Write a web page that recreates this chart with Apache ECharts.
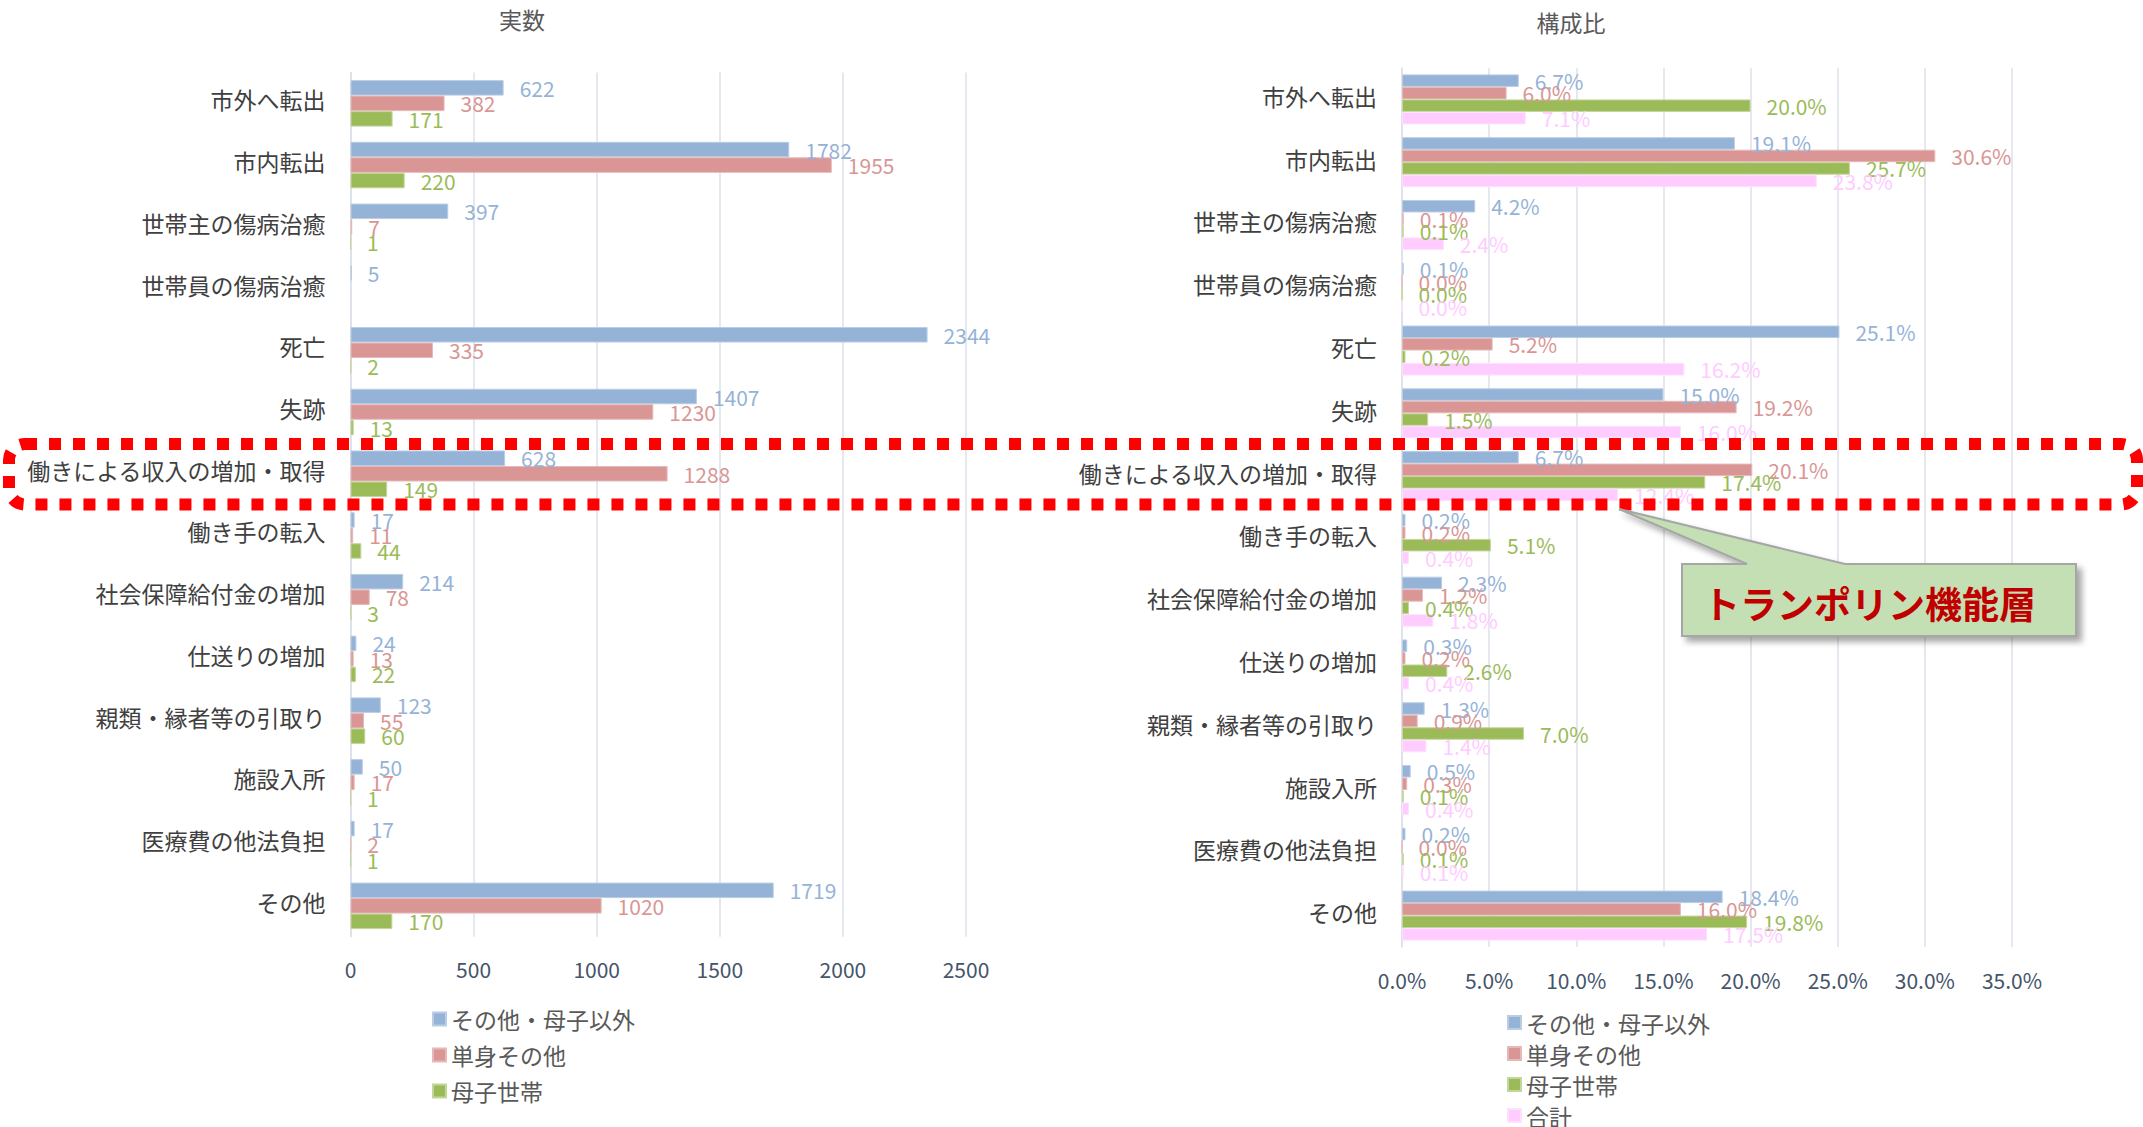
<!DOCTYPE html>
<html><head><meta charset="utf-8">
<script src="https://cdn.jsdelivr.net/npm/echarts@6/dist/echarts.min.js"></script>
<style>html,body{margin:0;padding:0;background:#fff}#c{width:2143px;height:1127px}</style>
</head><body><div id="c"></div>
<script>
const categories = ['市外へ転出','市内転出','世帯主の傷病治癒','世帯員の傷病治癒','死亡','失跡','働きによる収入の増加・取得','働き手の転入','社会保障給付金の増加','仕送りの増加','親類・縁者等の引取り','施設入所','医療費の他法負担','その他'];
const seriesNames = ['その他・母子以外','単身その他','母子世帯','合計'];
// 実数
const countOther  = [622,1782,397,5,2344,1407,628,17,214,24,123,50,17,1719];
const countSingle = [382,1955,7,null,335,1230,1288,11,78,13,55,17,2,1020];
const countMother = [171,220,1,null,2,13,149,44,3,22,60,1,1,170];
// 構成比 (%)
const pctOther  = [6.7,19.1,4.2,0.1,25.1,15.0,6.7,0.2,2.3,0.3,1.3,0.5,0.2,18.4];
const pctSingle = [6.0,30.6,0.1,0.0,5.2,19.2,20.1,0.2,1.2,0.2,0.9,0.3,0.0,16.0];
const pctMother = [20.0,25.7,0.1,0.0,0.2,1.5,17.4,5.1,0.4,2.6,7.0,0.1,0.1,19.8];
const pctTotal  = [7.1,23.8,2.4,0.0,16.2,16.0,12.4,0.4,1.8,0.4,1.4,0.4,0.1,17.5];
// axis ticks
const countAxis = {min:0, max:2500, interval:500};
const pctAxis = {min:0, max:35, interval:5};

const FONT = '"Noto Sans CJK JP", "Noto Sans", sans-serif';
const colors = ['#95B3D7','#D99694','#9BBB59','#FFCCFF'];
const borders = ['#B9CDE5','#E6B9B8','#C3D69B','#FFE0FF'];
const gridColor = '#DCE1E9';

function barSeries(idx, data, axisIdx, barW, pct){
  return {
    type:'bar', name:seriesNames[idx], data:data,
    xAxisIndex:axisIdx, yAxisIndex:axisIdx,
    barWidth:barW, barGap:'0%',
    itemStyle:{color:colors[idx], borderColor:borders[idx], borderWidth:1},
    label:{show:true, position:'right', distance:16, color:colors[idx], fontSize:21, fontFamily:FONT,
      formatter: pct ? (p => p.value.toFixed(1)+'%') : (p => String(p.value))},
    emphasis:{disabled:true}, animation:false
  };
}

const chart = echarts.init(document.getElementById('c'), null, {renderer:'svg'});
const catAxis = (shift) => ({
  type:'category', data:categories, inverse:true,
  axisLine:{show:true, lineStyle:{color:gridColor, width:1.5}},
  axisTick:{show:false},
  axisLabel:{margin:25, formatter: v => '{c|' + v + '}',
    rich:{c:{color:'#404040', fontSize:23, fontFamily:FONT, padding:[0,0,shift,0]}}},
  splitLine:{show:false}
});
const valAxis = (cfg, fmt) => ({
  type:'value', min:cfg.min, max:cfg.max, interval:cfg.interval,
  axisLine:{show:false}, axisTick:{show:false},
  axisLabel:{color:'#44546A', fontSize:21, fontFamily:FONT, margin:22, formatter:fmt},
  splitLine:{show:true, lineStyle:{color:gridColor, width:1.5}}
});

chart.setOption({
  animation:false,
  title:[
    {text:'実数', left:517, top:2, textAlign:'center', textStyle:{color:'#595959', fontSize:23, fontWeight:'normal', fontFamily:FONT}},
    {text:'構成比', left:1566, top:5, textAlign:'center', textStyle:{color:'#595959', fontSize:23, fontWeight:'normal', fontFamily:FONT}}
  ],
  grid:[
    {left:350.5, top:72.5, width:615.5, height:864.2},
    {left:1402, top:68, width:610, height:879}
  ],
  xAxis:[ valAxis(countAxis, v => String(v)), Object.assign(valAxis(pctAxis, v => v.toFixed(1)+'%'), {gridIndex:1}) ],
  yAxis:[ catAxis(8), Object.assign(catAxis(7), {gridIndex:1}) ],
  legend:[
    {orient:'vertical', left:432, top:1006, height:130, padding:0, itemWidth:13, itemHeight:13, itemGap:10, icon:'rect',
     data:seriesNames.slice(0,3), textStyle:{color:'#595959', fontSize:23, fontFamily:FONT, lineHeight:26}, selectedMode:false},
    {orient:'vertical', left:1507, top:1010.6, height:140, padding:0, itemWidth:13, itemHeight:13, itemGap:7, icon:'rect',
     data:seriesNames.slice(0,4), textStyle:{color:'#595959', fontSize:23, fontFamily:FONT, lineHeight:24}, selectedMode:false}
  ],
  series:[
    barSeries(0, countOther, 0, 15.5, false),
    barSeries(1, countSingle, 0, 15.5, false),
    barSeries(2, countMother, 0, 15.5, false),
    barSeries(0, pctOther, 1, 12.5, true),
    barSeries(1, pctSingle, 1, 12.5, true),
    barSeries(2, pctMother, 1, 12.5, true),
    barSeries(3, pctTotal, 1, 12.5, true)
  ],
  graphic:[
    {type:'rect', z:100, shape:{x:9, y:444, width:2128, height:60.5, r:16},
     style:{fill:'none', stroke:'#FF0000', lineWidth:12, lineDash:[12,12]}},
    {type:'polygon', z:101,
     shape:{points:[[1682,564],[1747,564],[1619,509],[1845,564],[2076,564],[2076,636],[1682,636]]},
     style:{fill:'#C4DFB3', stroke:'#A6A6A6', lineWidth:2, shadowBlur:6, shadowOffsetX:5, shadowOffsetY:5, shadowColor:'rgba(0,0,0,0.35)'}},
    {type:'text', z:102, x:1869.5, y:603,
     style:{text:'トランポリン機能層', fill:'#C00000', fontSize:37, fontWeight:'bold', fontFamily:FONT, align:'center', verticalAlign:'middle'}}
  ]
});
</script></body></html>
